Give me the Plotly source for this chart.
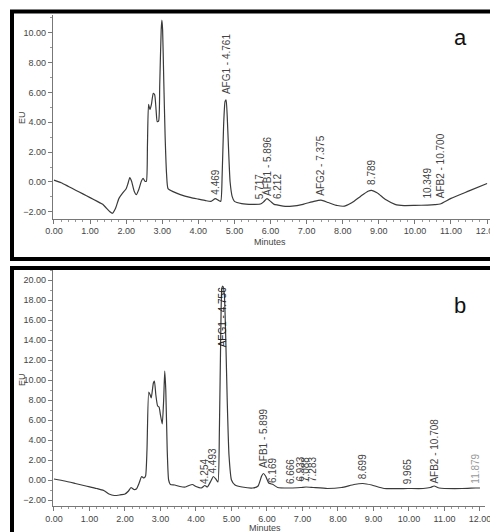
import plotly.graph_objects as go

# chromatogram a
time_a = [0.00, 0.20, 0.40, 0.60, 0.80, 1.00, 1.20, 1.35, 1.45, 1.55, 1.62, 1.70, 1.80, 1.90,
          2.00, 2.05, 2.10, 2.15, 2.22, 2.28, 2.35, 2.42, 2.47, 2.52, 2.56, 2.59, 2.62, 2.66,
          2.70, 2.75, 2.79, 2.83, 2.86, 2.90, 2.93, 2.97, 2.99, 3.01, 3.04, 3.08, 3.12, 3.16,
          3.30, 3.50, 3.80, 4.00, 4.20, 4.35, 4.47, 4.55, 4.62, 4.66, 4.70, 4.74, 4.77, 4.80,
          4.84, 4.88, 4.94, 5.00, 5.20, 5.50, 5.72, 5.80, 5.90, 6.00, 6.10, 6.21, 6.35, 6.60,
          6.90, 7.20, 7.40, 7.60, 7.85, 8.05, 8.25, 8.50, 8.70, 8.80, 8.95, 9.20, 9.45, 9.70,
          10.00, 10.35, 10.55, 10.70, 11.00, 11.50, 12.00]
eu_a = [0.12, -0.05, -0.30, -0.55, -0.80, -1.05, -1.30, -1.50, -1.75, -2.00, -2.10, -1.80, -1.10, -0.75,
        -0.45, -0.10, 0.30, 0.05, -0.60, -0.85, -0.50, 0.05, 0.25, 0.05, 0.05, 2.50, 5.20, 4.85,
        5.20, 5.95, 5.85, 4.80, 4.05, 4.10, 6.50, 10.20, 10.85, 10.20, 7.00, 3.00, 0.50, -0.45,
        -0.65, -0.85, -1.05, -1.15, -1.25, -1.30, -1.12, -1.22, -1.30, 0.50, 3.80, 5.40, 5.50, 4.40,
        2.00, 0.00, -1.00, -1.30, -1.45, -1.50, -1.48, -1.35, -1.12, -1.30, -1.50, -1.55, -1.62, -1.62,
        -1.50, -1.30, -1.22, -1.38, -1.58, -1.62, -1.40, -0.95, -0.62, -0.56, -0.72, -1.20, -1.50, -1.58,
        -1.57, -1.55, -1.52, -1.48, -1.10, -0.60, -0.10]

# chromatogram b
time_b = [0.00, 0.30, 0.60, 0.90, 1.20, 1.40, 1.55, 1.70, 1.85, 2.00, 2.10, 2.17, 2.25, 2.32,
          2.40, 2.47, 2.53, 2.58, 2.62, 2.67, 2.71, 2.74, 2.80, 2.83, 2.87, 2.92, 2.96, 3.00,
          3.05, 3.09, 3.12, 3.15, 3.19, 3.23, 3.28, 3.40, 3.55, 3.70, 3.80, 3.90, 4.00, 4.15,
          4.25, 4.32, 4.42, 4.49, 4.56, 4.62, 4.66, 4.70, 4.73, 4.76, 4.80, 4.84, 4.88, 4.93,
          5.00, 5.10, 5.30, 5.60, 5.75, 5.85, 5.90, 5.96, 6.05, 6.17, 6.30, 6.67, 6.95, 7.10,
          7.30, 7.70, 8.10, 8.45, 8.70, 8.95, 9.30, 9.97, 10.40, 10.60, 10.71, 10.85, 11.50,
          11.88, 12.00]
eu_b = [0.10, -0.10, -0.35, -0.60, -0.85, -1.05, -1.40, -1.55, -1.50, -1.40, -1.10, -0.75, -0.95, -0.90,
        -0.30, 0.35, 0.20, 0.40, 3.00, 8.80, 8.50, 8.20, 9.70, 9.90, 8.50, 7.40, 7.30, 6.50,
        5.60, 8.00, 10.90, 9.00, 3.00, 0.00, -0.45, -0.50, -0.65, -0.70, -0.55, -0.45, -0.65, -0.80,
        -0.55, -0.70, -0.10, 0.35, 0.10, -0.20, 5.00, 15.00, 19.20, 19.40, 18.50, 14.00, 8.00, 2.50,
        0.00, -0.50, -0.70, -0.80, -0.60, 0.40, 0.65, 0.40, -0.30, -0.45, -0.75, -0.80, -0.75, -0.70,
        -0.75, -0.85, -0.75, -0.45, -0.35, -0.50, -0.85, -0.85, -0.85, -0.75, -0.60, -0.80, -0.85,
        -0.80, -0.80]

# peak labels
peaks_a_x = [4.469, 4.761, 5.717, 5.896, 6.212, 7.375, 8.789, 10.349, 10.700]
peaks_a_y = [-1.00, 5.75, -1.30, -1.05, -1.30, -1.05, -0.35, -1.25, -1.25]
peaks_a_text = ["4.469", "AFG1 - 4.761", "5.717", "AFB1 - 5.896", "6.212",
                "AFG2 - 7.375", "8.789", "10.349", "AFB2 - 10.700"]

peaks_b_x = [4.254, 4.493, 5.899, 6.169, 6.666, 6.933, 7.088, 7.283, 8.699, 9.965, 10.708, 11.879]
peaks_b_y = [-0.55, 0.45, 1.00, -0.45, -0.60, -0.40, -0.40, -0.40, -0.10, -0.60, -0.60, -0.60]
peaks_b_text = ["4.254", "4.493", "AFB1 - 5.899", "6.169", "6.666", "6.933", "7.088",
                "7.283", "8.699", "9.965", "AFB2 - 10.708", "11.879"]
afg1_b = (4.756, 19.45, "AFG1 - 4.756")

x_ticks = [0, 1, 2, 3, 4, 5, 6, 7, 8, 9, 10, 11, 12]
y_ticks_a = [-2, 0, 2, 4, 6, 8, 10]
y_ticks_b = [-2, 0, 2, 4, 6, 8, 10, 12, 14, 16, 18, 20]

W, H = 498, 532
FONT = "Arial, Liberation Sans, sans-serif"
INK = "#3a3a3a"
TXT = "#444444"

fig = go.Figure()
fig.add_trace(go.Scatter(x=time_a, y=eu_a, mode="lines", xaxis="x", yaxis="y",
                         line=dict(color=INK, width=1.2, shape="spline", smoothing=0.5),
                         hoverinfo="skip"))
fig.add_trace(go.Scatter(x=time_b, y=eu_b, mode="lines", xaxis="x2", yaxis="y2",
                         line=dict(color=INK, width=1.2, shape="spline", smoothing=0.5),
                         hoverinfo="skip"))

annotations = []
for x, y, t in zip(peaks_a_x, peaks_a_y, peaks_a_text):
    annotations.append(dict(x=x, y=y, xref="x", yref="y", text=t, textangle=-90,
                            showarrow=False, xanchor="center", yanchor="bottom",
                            font=dict(family=FONT, size=10, color=TXT)))
for x, y, t in zip(peaks_b_x, peaks_b_y, peaks_b_text):
    annotations.append(dict(x=x, y=y, xref="x2", yref="y2", text=t, textangle=-90,
                            showarrow=False, xanchor="center", yanchor="bottom",
                            font=dict(family=FONT, size=10,
                                      color="#9a9a9a" if t == "11.879" else TXT)))
annotations.append(dict(x=afg1_b[0], y=afg1_b[1], xref="x2", yref="y2", text=afg1_b[2],
                        textangle=-90, showarrow=False, xanchor="center", yanchor="top",
                        font=dict(family=FONT, size=10, color="#222222")))

# axis titles and panel letters
for txt, px, py, size, ang in [("EU", 14, 110, 9, -90), ("Minutes", 262, 234, 9, 0),
                               ("EU", 14, 372, 9, -90), ("Minutes", 257, 520, 9, 0),
                               ("a", 452, 30, 22, 0), ("b", 452, 297, 22, 0)]:
    annotations.append(dict(x=px / W, y=1 - py / H, xref="paper", yref="paper", text=txt,
                            textangle=ang, showarrow=False, xanchor="center", yanchor="middle",
                            font=dict(family=FONT, size=size, color="#111111" if size > 10 else TXT)))

axis_common = dict(showline=True, linecolor="#777777", linewidth=1, ticks="outside",
                   ticklen=4, tickcolor="#777777", showgrid=False, zeroline=False,
                   automargin=False, tickfont=dict(family=FONT, size=9, color=TXT))

fig.update_layout(
    width=W, height=H,
    margin=dict(l=0, r=0, t=0, b=0),
    paper_bgcolor="white", plot_bgcolor="white",
    showlegend=False,
    xaxis=dict(domain=[44.9 / W, 484.5 / W], range=[-0.03, 12.15], anchor="y",
               tickvals=x_ticks, tickformat=".2f",
               minor=dict(dtick=0.2, ticks="outside", ticklen=2, tickcolor="#999999"),
               **axis_common),
    yaxis=dict(domain=[1 - 210.5 / H, 1 - 7 / H], range=[-2.45, 11.2], anchor="x",
               tickvals=y_ticks_a, tickformat=".2f",
               minor=dict(dtick=1, ticks="outside", ticklen=2, tickcolor="#999999"),
               **axis_common),
    xaxis2=dict(domain=[44.9 / W, 477.3 / W], range=[-0.03, 12.15], anchor="y2",
                tickvals=x_ticks, tickformat=".2f",
                minor=dict(dtick=0.2, ticks="outside", ticklen=2, tickcolor="#999999"),
                **axis_common),
    yaxis2=dict(domain=[1 - 498 / H, 1 - 262 / H], range=[-2.6, 21], anchor="x2",
                tickvals=y_ticks_b, tickformat=".2f",
                minor=dict(dtick=1, ticks="outside", ticklen=2, tickcolor="#999999"),
                **axis_common),
    annotations=annotations,
    shapes=[
        dict(type="rect", xref="paper", yref="paper", x0=4 / W, x1=494 / W,
             y0=1 - 251 / H, y1=1 - 3.5 / H, line=dict(color="black", width=4)),
        dict(type="rect", xref="paper", yref="paper", x0=4 / W, x1=492 / W,
             y0=1 - 526 / H, y1=1 - 260 / H, line=dict(color="black", width=4)),
    ],
)

fig.write_html("out.html")
